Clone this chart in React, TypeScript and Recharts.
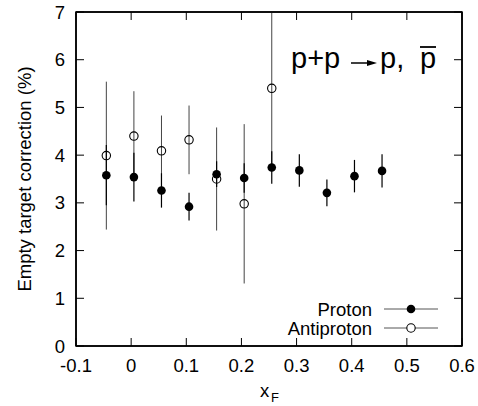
import { Scatter, ScatterChart, XAxis, YAxis, ErrorBar, ReferenceLine } from "recharts";

const xTicks = [-0.1, 0, 0.1, 0.2, 0.3, 0.4, 0.5, 0.6];
const yTicks = [0, 1, 2, 3, 4, 5, 6, 7];

const protonX = [-0.045, 0.005, 0.055, 0.105, 0.155, 0.205, 0.255, 0.305, 0.355, 0.405, 0.455];
const protonY = [3.58, 3.54, 3.26, 2.92, 3.6, 3.52, 3.74, 3.68, 3.21, 3.56, 3.67];
const protonErr = [0.63, 0.51, 0.36, 0.29, 0.27, 0.31, 0.34, 0.34, 0.28, 0.34, 0.35];

const antiX = [-0.045, 0.005, 0.055, 0.105, 0.155, 0.205, 0.255];
const antiY = [3.99, 4.4, 4.09, 4.32, 3.5, 2.98, 5.4];
const antiErr = [1.55, 0.94, 0.74, 0.72, 1.08, 1.67, 1.6];

const protonData = protonX.map((x, i) => ({ x, y: protonY[i], err: protonErr[i] }));
const antiData = antiX.map((x, i) => ({ x, y: antiY[i], err: antiErr[i] }));

const FONT = "'Liberation Sans', Arial, sans-serif";
const PLOT_TOP = 12;
const PLOT_LEFT = 76;
const PLOT_RIGHT = 462;
const PLOT_BOTTOM = 346;

// bottom tick also mirrors an inward tick on the top edge
const BottomTick = ({ x, y, payload }: any) => (
    <g>
        <line x1={x} y1={y} x2={x} y2={y - 8} stroke="#000" strokeWidth={1} />
        <line x1={x} y1={PLOT_TOP} x2={x} y2={PLOT_TOP + 8} stroke="#000" strokeWidth={1} />
        <text x={x} y={y + 26} textAnchor="middle" fontSize={18.5} fontFamily={FONT} fill="#000">
            {String(payload.value)}
        </text>
    </g>
);

// left tick also mirrors an inward tick on the right edge
const LeftTick = ({ x, y, payload }: any) => (
    <g>
        <line x1={x} y1={y} x2={x + 8} y2={y} stroke="#000" strokeWidth={1} />
        <line x1={PLOT_RIGHT} y1={y} x2={PLOT_RIGHT - 8} y2={y} stroke="#000" strokeWidth={1} />
        <text x={x - 11} y={y + 6.5} textAnchor="end" fontSize={18.5} fontFamily={FONT} fill="#000">
            {String(payload.value)}
        </text>
    </g>
);

const FilledDot = ({ cx, cy }: any) => <circle cx={cx} cy={cy} r={4.3} fill="#000" />;
const OpenDot = ({ cx, cy }: any) => (
    <circle cx={cx} cy={cy} r={4.2} fill="none" stroke="#000" strokeWidth={1.1} />
);

export default function App() {
    return (
        <div style={{ position: "absolute", left: 0, top: 0, width: 478, height: 406, background: "#fff" }}>
            <ScatterChart
                width={478}
                height={406}
                margin={{ top: PLOT_TOP, right: 478 - PLOT_RIGHT, left: 0, bottom: 0 }}>
                <XAxis
                    dataKey="x"
                    type="number"
                    domain={[-0.1, 0.6]}
                    ticks={xTicks}
                    height={60}
                    tickSize={0}
                    tickMargin={0}
                    tick={<BottomTick />}
                    axisLine={{ stroke: "#000", strokeWidth: 1.5 }}
                    allowDataOverflow
                    interval={0} />
                <YAxis
                    dataKey="y"
                    type="number"
                    domain={[0, 7]}
                    ticks={yTicks}
                    width={76}
                    tickSize={0}
                    tickMargin={0}
                    tick={<LeftTick />}
                    axisLine={{ stroke: "#000", strokeWidth: 1.5 }}
                    allowDataOverflow
                    interval={0} />
                <ReferenceLine y={7} stroke="#000" strokeWidth={1.5} ifOverflow="visible" />
                <ReferenceLine x={0.6} stroke="#000" strokeWidth={1.5} ifOverflow="visible" />
                <Scatter data={antiData} shape={<OpenDot />} isAnimationActive={false}>
                    <ErrorBar dataKey="err" direction="y" width={0} stroke="#444" strokeWidth={1} isAnimationActive={false} />
                </Scatter>
                <Scatter data={protonData} shape={<FilledDot />} isAnimationActive={false}>
                    <ErrorBar dataKey="err" direction="y" width={0} stroke="#000" strokeWidth={1.2} isAnimationActive={false} />
                </Scatter>
            </ScatterChart>
            <svg
                width={478}
                height={406}
                style={{ position: "absolute", left: 0, top: 0, pointerEvents: "none" }}
                fontFamily={FONT}>
                {/* plot frame */}
                <rect
                    x={PLOT_LEFT}
                    y={PLOT_TOP}
                    width={PLOT_RIGHT - PLOT_LEFT}
                    height={PLOT_BOTTOM - PLOT_TOP}
                    fill="none"
                    stroke="#000"
                    strokeWidth={1.5} />

                {/* reaction label */}
                <text x={291} y={68} fontSize={29} fill="#000">p+p</text>
                <line x1={351} y1={63} x2={369} y2={63} stroke="#000" strokeWidth={1.5} />
                <polygon points="367,60 377,63 367,66" fill="#000" />
                <text x={380} y={68} fontSize={29} fill="#000">p,</text>
                <text x={420} y={68} fontSize={29} fill="#000">p</text>
                <line x1={420} y1={47} x2={436} y2={47} stroke="#000" strokeWidth={1.8} />

                {/* legend */}
                <text x={372} y={315.5} textAnchor="end" fontSize={18.5} fill="#000">Proton</text>
                <line x1={384} y1={309} x2={438} y2={309} stroke="#555" strokeWidth={1} />
                <circle cx={411} cy={309} r={4.3} fill="#000" />
                <text x={372} y={334.5} textAnchor="end" fontSize={18.5} fill="#000">Antiproton</text>
                <line x1={384} y1={328} x2={438} y2={328} stroke="#555" strokeWidth={1} />
                <circle cx={411} cy={328} r={4.2} fill="#fff" stroke="#000" strokeWidth={1.1} />

                {/* axis titles */}
                <text x={260} y={397} fontSize={18.5} fill="#000">x</text>
                <text x={271} y={402} fontSize={13} fill="#000">F</text>
                <text
                    transform="translate(24,179) rotate(-90)"
                    textAnchor="middle"
                    dominantBaseline="central"
                    fontSize={18.5}
                    fill="#000">
                    Empty target correction (%)
                </text>
            </svg>
        </div>
    );
}
